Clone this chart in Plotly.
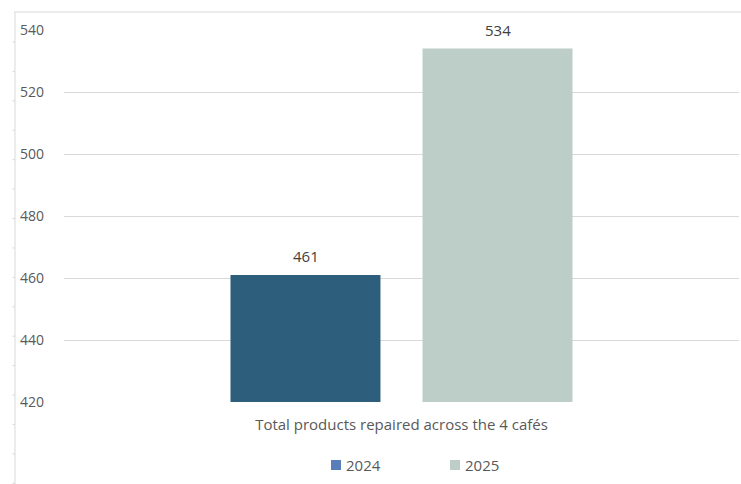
import plotly.graph_objects as go

# Data
category = ["Total products repaired across the 4 cafés"]
years = ["2024", "2025"]
values_2024 = [461]
values_2025 = [534]
y_ticks = [420, 440, 460, 480, 500, 520, 540]

bar_colors = {"2024": "#2D5F7D", "2025": "#BCCEC7"}
legend_colors = {"2024": "#587DB9", "2025": "#BCCEC7"}

W, H = 741, 484
L, R, T, B = 64, 2, 30, 82
plot_w = W - L - R
plot_h = H - T - B

font_family = "'Open Sans', sans-serif"
text_grey = "#595959"

fig = go.Figure()

series = {"2024": values_2024, "2025": values_2025}
for year in years:
    fig.add_trace(go.Bar(
        x=category, y=series[year], name=year,
        marker=dict(color=bar_colors[year], line=dict(width=0)),
        showlegend=False,
    ))

# Pixel -> paper helpers for decorations
px_x = lambda px: (px - L) / plot_w
px_y = lambda py: (H - B - py) / plot_h

# Value labels above each bar
bar_offset = 96
annotations = []
for i, year in enumerate(years):
    v = series[year][0]
    annotations.append(dict(
        x=category[0], y=v, xref="x", yref="y",
        xshift=(i - 0.5) * 2 * bar_offset, yshift=7,
        text=str(v), showarrow=False, yanchor="bottom",
        font=dict(size=15, color="#404040", family=font_family),
    ))

# Legend drawn as square swatches + labels
shapes = []
legend_items = [("2024", 331), ("2025", 450)]
for year, sx in legend_items:
    shapes.append(dict(type="rect", xref="paper", yref="paper",
                       x0=px_x(sx), x1=px_x(sx + 10),
                       y0=px_y(470), y1=px_y(460),
                       fillcolor=legend_colors[year], line=dict(width=0)))
    annotations.append(dict(x=px_x(sx + 13), y=px_y(465), xref="paper", yref="paper",
                            text=year, showarrow=False, xanchor="left", yanchor="middle",
                            font=dict(size=15, color=text_grey, family=font_family)))

# Outer frame: top rule and left rule with small ticks
shapes += [
    dict(type="line", xref="paper", yref="paper",
         x0=px_x(14), x1=px_x(W), y0=px_y(12), y1=px_y(12),
         line=dict(color="#D9D9D9", width=1)),
    dict(type="line", xref="paper", yref="paper",
         x0=px_x(15), x1=px_x(15), y0=px_y(12), y1=px_y(H),
         line=dict(color="#D9D9D9", width=1)),
]
for k in range(16):
    py = 42 + k * 29.42
    shapes.append(dict(type="line", xref="paper", yref="paper",
                       x0=px_x(12.5), x1=px_x(15), y0=px_y(py), y1=px_y(py),
                       line=dict(color="#D9D9D9", width=1)))

fig.update_layout(
    width=W, height=H,
    margin=dict(l=L, r=R, t=T, b=B),
    paper_bgcolor="white", plot_bgcolor="white",
    barmode="group", bargap=0.431, bargroupgap=0.219,
    font=dict(family=font_family, size=14, color=text_grey),
    shapes=shapes, annotations=annotations,
    showlegend=False,
    yaxis=dict(range=[420, 540], tickvals=y_ticks, showgrid=True,
               gridcolor="#D9D9D9", gridwidth=1, zeroline=False, showline=False,
               ticks="", ticklabelstandoff=19,
               tickfont=dict(size=14, color=text_grey)),
    xaxis=dict(showline=False, ticks="", showgrid=False,
               tickfont=dict(size=15, color=text_grey), ticklabelstandoff=12),
)

fig.write_html("out.html")
